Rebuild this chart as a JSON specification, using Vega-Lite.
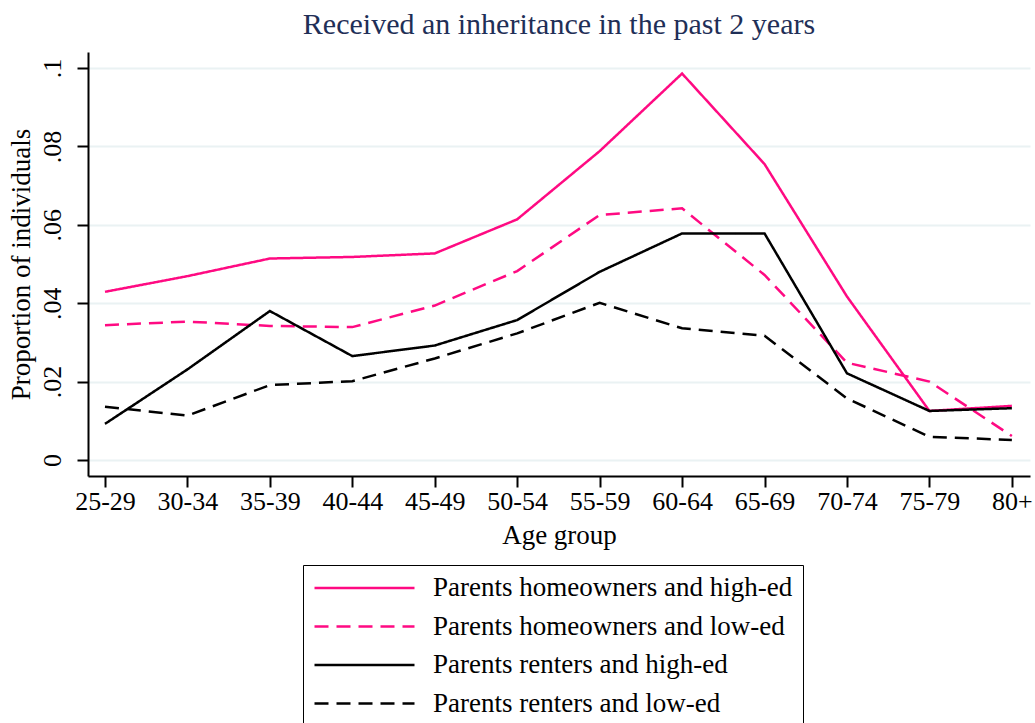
{
  "$schema": "https://vega.github.io/schema/vega-lite/v6.json",
  "width": 942,
  "height": 424,
  "autosize": {"type": "none"},
  "padding": {"left": 88, "top": 52, "right": 5, "bottom": 247},
  "background": "white",
  "title": {
    "text": "Received an inheritance in the past 2 years",
    "font": "Liberation Serif",
    "fontSize": 30,
    "fontWeight": "normal",
    "color": "#1f2f57",
    "anchor": "middle",
    "offset": 12
  },
  "config": {
    "view": {"stroke": null},
    "font": "Liberation Serif"
  },
  "data": {
    "values": [
      {"idx": 0, "age": "25-29", "series": "Parents homeowners and high-ed", "value": 0.0429},
      {"idx": 1, "age": "30-34", "series": "Parents homeowners and high-ed", "value": 0.0469},
      {"idx": 2, "age": "35-39", "series": "Parents homeowners and high-ed", "value": 0.0514},
      {"idx": 3, "age": "40-44", "series": "Parents homeowners and high-ed", "value": 0.0518},
      {"idx": 4, "age": "45-49", "series": "Parents homeowners and high-ed", "value": 0.0527},
      {"idx": 5, "age": "50-54", "series": "Parents homeowners and high-ed", "value": 0.0614},
      {"idx": 6, "age": "55-59", "series": "Parents homeowners and high-ed", "value": 0.0788},
      {"idx": 7, "age": "60-64", "series": "Parents homeowners and high-ed", "value": 0.0986},
      {"idx": 8, "age": "65-69", "series": "Parents homeowners and high-ed", "value": 0.0755},
      {"idx": 9, "age": "70-74", "series": "Parents homeowners and high-ed", "value": 0.0417},
      {"idx": 10, "age": "75-79", "series": "Parents homeowners and high-ed", "value": 0.0125},
      {"idx": 11, "age": "80+", "series": "Parents homeowners and high-ed", "value": 0.0138},
      {"idx": 0, "age": "25-29", "series": "Parents homeowners and low-ed", "value": 0.0344},
      {"idx": 1, "age": "30-34", "series": "Parents homeowners and low-ed", "value": 0.0353},
      {"idx": 2, "age": "35-39", "series": "Parents homeowners and low-ed", "value": 0.0342},
      {"idx": 3, "age": "40-44", "series": "Parents homeowners and low-ed", "value": 0.0339},
      {"idx": 4, "age": "45-49", "series": "Parents homeowners and low-ed", "value": 0.0394},
      {"idx": 5, "age": "50-54", "series": "Parents homeowners and low-ed", "value": 0.0482},
      {"idx": 6, "age": "55-59", "series": "Parents homeowners and low-ed", "value": 0.0625},
      {"idx": 7, "age": "60-64", "series": "Parents homeowners and low-ed", "value": 0.0642},
      {"idx": 8, "age": "65-69", "series": "Parents homeowners and low-ed", "value": 0.0472},
      {"idx": 9, "age": "70-74", "series": "Parents homeowners and low-ed", "value": 0.0248},
      {"idx": 10, "age": "75-79", "series": "Parents homeowners and low-ed", "value": 0.0200},
      {"idx": 11, "age": "80+", "series": "Parents homeowners and low-ed", "value": 0.0061},
      {"idx": 0, "age": "25-29", "series": "Parents renters and high-ed", "value": 0.0092},
      {"idx": 1, "age": "30-34", "series": "Parents renters and high-ed", "value": 0.0231},
      {"idx": 2, "age": "35-39", "series": "Parents renters and high-ed", "value": 0.0380},
      {"idx": 3, "age": "40-44", "series": "Parents renters and high-ed", "value": 0.0265},
      {"idx": 4, "age": "45-49", "series": "Parents renters and high-ed", "value": 0.0292},
      {"idx": 5, "age": "50-54", "series": "Parents renters and high-ed", "value": 0.0357},
      {"idx": 6, "age": "55-59", "series": "Parents renters and high-ed", "value": 0.0480},
      {"idx": 7, "age": "60-64", "series": "Parents renters and high-ed", "value": 0.0578},
      {"idx": 8, "age": "65-69", "series": "Parents renters and high-ed", "value": 0.0578},
      {"idx": 9, "age": "70-74", "series": "Parents renters and high-ed", "value": 0.0221},
      {"idx": 10, "age": "75-79", "series": "Parents renters and high-ed", "value": 0.0125},
      {"idx": 11, "age": "80+", "series": "Parents renters and high-ed", "value": 0.0132},
      {"idx": 0, "age": "25-29", "series": "Parents renters and low-ed", "value": 0.0136},
      {"idx": 1, "age": "30-34", "series": "Parents renters and low-ed", "value": 0.0113},
      {"idx": 2, "age": "35-39", "series": "Parents renters and low-ed", "value": 0.0191},
      {"idx": 3, "age": "40-44", "series": "Parents renters and low-ed", "value": 0.0201},
      {"idx": 4, "age": "45-49", "series": "Parents renters and low-ed", "value": 0.0259},
      {"idx": 5, "age": "50-54", "series": "Parents renters and low-ed", "value": 0.0323},
      {"idx": 6, "age": "55-59", "series": "Parents renters and low-ed", "value": 0.0401},
      {"idx": 7, "age": "60-64", "series": "Parents renters and low-ed", "value": 0.0336},
      {"idx": 8, "age": "65-69", "series": "Parents renters and low-ed", "value": 0.0317},
      {"idx": 9, "age": "70-74", "series": "Parents renters and low-ed", "value": 0.0157},
      {"idx": 10, "age": "75-79", "series": "Parents renters and low-ed", "value": 0.0059},
      {"idx": 11, "age": "80+", "series": "Parents renters and low-ed", "value": 0.0051}
    ]
  },
  "mark": {"type": "line", "strokeWidth": 2.5},
  "encoding": {
    "x": {
      "field": "idx",
      "type": "quantitative",
      "scale": {"domain": [-0.206, 11.22], "nice": false, "zero": false},
      "axis": {
        "title": "Age group",
        "values": [0, 1, 2, 3, 4, 5, 6, 7, 8, 9, 10, 11],
        "labelExpr": "['25-29','30-34','35-39','40-44','45-49','50-54','55-59','60-64','65-69','70-74','75-79','80+'][datum.value]",
        "grid": false,
        "domainColor": "#000000",
        "domainWidth": 2,
        "tickColor": "#000000",
        "tickWidth": 2,
        "tickSize": 11,
        "labelFont": "Liberation Serif",
        "labelFontSize": 26,
        "labelColor": "#000000",
        "labelPadding": 1,
        "labelFlush": false,
        "labelOverlap": false,
        "titleFont": "Liberation Serif",
        "titleFontSize": 27,
        "titleFontWeight": "normal",
        "titleColor": "#000000",
        "titlePadding": 8
      }
    },
    "y": {
      "field": "value",
      "type": "quantitative",
      "scale": {"domain": [-0.0041, 0.1041], "nice": false, "zero": false},
      "axis": {
        "title": "Proportion of individuals",
        "values": [0, 0.02, 0.04, 0.06, 0.08, 0.1],
        "labelExpr": "datum.value == 0 ? '0' : replace(format(datum.value, '.2~f'), '0.', '.')",
        "grid": true,
        "gridColor": "#eaf2f3",
        "gridWidth": 2,
        "domainColor": "#000000",
        "domainWidth": 2,
        "tickColor": "#000000",
        "tickWidth": 2,
        "tickSize": 11,
        "labelAngle": -90,
        "labelAlign": "center",
        "labelBaseline": "bottom",
        "labelFont": "Liberation Serif",
        "labelFontSize": 26,
        "labelColor": "#000000",
        "labelPadding": 12,
        "labelFlush": false,
        "labelOverlap": false,
        "titleFont": "Liberation Serif",
        "titleFontSize": 27,
        "titleFontWeight": "normal",
        "titleColor": "#000000",
        "titlePadding": 4
      }
    },
    "color": {
      "field": "series",
      "type": "nominal",
      "scale": {
        "domain": ["Parents homeowners and high-ed", "Parents homeowners and low-ed", "Parents renters and high-ed", "Parents renters and low-ed"],
        "range": ["#ff0a82", "#ff0a82", "#000000", "#000000"]
      },
      "legend": {
        "title": null,
        "orient": "none",
        "legendX": 215,
        "legendY": 513,
        "direction": "vertical",
        "symbolType": "stroke",
        "symbolSize": 10000,
        "symbolStrokeWidth": 2.5,
        "clipHeight": 26,
        "labelFont": "Liberation Serif",
        "labelFontSize": 27,
        "labelColor": "#000000",
        "labelOffset": 17,
        "labelLimit": 500,
        "rowPadding": 11.5,
        "padding": 10,
        "strokeColor": "#000000",
        "fillColor": "#ffffff"
      }
    },
    "strokeDash": {
      "field": "series",
      "type": "nominal",
      "scale": {
        "domain": ["Parents homeowners and high-ed", "Parents homeowners and low-ed", "Parents renters and high-ed", "Parents renters and low-ed"],
        "range": [[1, 0], [14, 8], [1, 0], [14, 8]]
      },
      "legend": {
        "title": null,
        "orient": "none",
        "legendX": 215,
        "legendY": 513,
        "direction": "vertical",
        "symbolType": "stroke",
        "symbolSize": 10000,
        "symbolStrokeWidth": 2.5,
        "clipHeight": 26,
        "labelFont": "Liberation Serif",
        "labelFontSize": 27,
        "labelColor": "#000000",
        "labelOffset": 17,
        "labelLimit": 500,
        "rowPadding": 11.5,
        "padding": 10,
        "strokeColor": "#000000",
        "fillColor": "#ffffff"
      }
    }
  }
}
